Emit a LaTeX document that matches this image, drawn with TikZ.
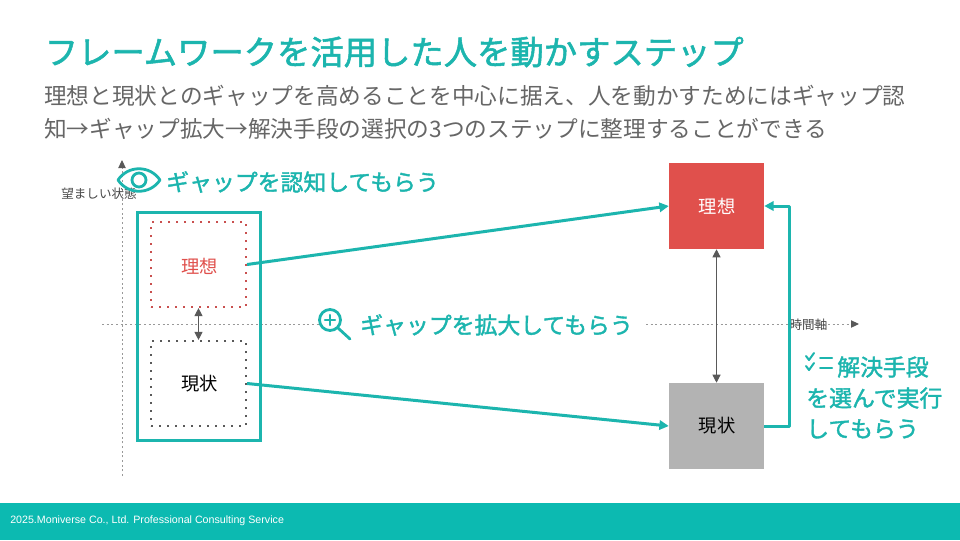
\documentclass[tikz,border=0pt]{standalone}
\usepackage{fontspec}
\usetikzlibrary{arrows.meta,calc}
\setmainfont{Noto Sans CJK JP}
\newfontfamily\semibold[FakeBold=1.6]{Noto Sans CJK JP}
\newfontfamily\latinfoot{Liberation Sans}
\definecolor{teal1}{HTML}{1CB5AE}
\definecolor{foot}{HTML}{0CBAB1}
\definecolor{redbox}{HTML}{E0504C}
\definecolor{redtxt}{HTML}{C9504F}
\definecolor{graybox}{HTML}{B3B3B3}
\definecolor{txtgray}{HTML}{666666}
\definecolor{linegray}{HTML}{595959}
\newcommand{\fs}[1]{\fontsize{#1}{#1}\selectfont}
\tikzset{
  x=0.75pt,y=-0.75pt,
  title/.style={anchor=west,inner sep=0,text=teal1,font=\semibold\fs{25}},
  subt/.style={anchor=north west,inner sep=0,text=txtgray,align=left,font=\fontsize{17}{24.75}\selectfont},
  lab/.style={anchor=west,inner sep=0,text=teal1,font=\semibold\fs{17.15}},
  axlab/.style={anchor=center,inner sep=0,text=txtgray!70!black,font=\fs{9.4}},
  boxtxt/.style={font=\fs{13.7},inner sep=0},
  dotbox/.style={draw,line width=1.6pt,dash pattern=on 1.6pt off 4.4pt,minimum width=71.25pt,minimum height=63.75pt,inner sep=0},
  solidbox/.style={minimum width=71.25pt,minimum height=64.5pt,inner sep=0},
  axisline/.style={draw=gray!80,line width=0.75pt,dash pattern=on 1.5pt off 2pt},
  axtip/.style={-{Triangle[length=6pt,width=5.5pt,fill=linegray,color=linegray]}},
  tealarrow/.style={draw=teal1,line width=2.25pt,-{Triangle[length=7pt,width=7pt,fill=teal1,color=teal1]}},
  dbl/.style={draw=linegray,line width=0.75pt,{Triangle[length=6pt,width=6pt,fill=linegray]}-{Triangle[length=6pt,width=6pt,fill=linegray]}},
  icon/.style={draw=teal1,line width=2.1pt,line cap=round,line join=round},
}
\begin{document}
\begin{tikzpicture}
\useasboundingbox (0,0) rectangle (960,540);
\fill[white] (0,0) rectangle (960,540);
% footer
\fill[foot] (0,503) rectangle (960,540);
\node[anchor=west,inner sep=0,text=white,font=\latinfoot\fs{8}] (foottxt) at (10,521) {2025.Moniverse Co., Ltd. Professional Consulting Service};
% title
\node[title] (ttl) at (44.5,52) {フレームワークを活用した人を動かすステップ};
\node[subt] (sub) at (44,85) {理想と現状とのギャップを高めることを中心に据え、人を動かすためにはギャップ認\\知→ギャップ拡大→解決手段の選択の3つのステップに整理することができる};
% axes
\coordinate (vs) at (122,476);
\coordinate (ve) at (122,160);
\coordinate (hs) at (102,324);
\coordinate (hm) at (320,324);
\coordinate (hn) at (646,324);
\coordinate (he) at (859,324);
\path[axisline,axtip] (vs) -- (ve);
\path[axisline] (hs) -- (hm);
\path[axisline,axtip] (hn) -- (he);
\node[axlab] (ylab) at (99,194) {望ましい状態};
\node[axlab] (xlab) at (808.5,325) {時間軸};
% left group
\node[draw=teal1,line width=2.25pt,minimum width=92.5pt,minimum height=171.5pt,inner sep=0] (group) at (199,326.5) {};
\node[dotbox,draw=redtxt] (ideal) at (198.5,264.5) {};
\node[boxtxt,text=redbox] (idealt) at (199.5,266) {理想};
\node[dotbox,draw=linegray] (now) at (198.5,383.5) {};
\node[boxtxt,text=black] (nowt) at (199.5,384) {現状};
\draw[dbl] (ideal.south) -- (now.north);
% right boxes
\node[solidbox,fill=redbox,text=white,font=\fs{13.7}] (idealr) at (716.5,206) {\raisebox{-0.6pt}{\hspace{1pt}理想}};
\node[solidbox,fill=graybox,text=black,font=\fs{13.7}] (nowr) at (716.5,426) {\raisebox{-0.6pt}{\hspace{1pt}現状}};
\draw[dbl] (idealr.south) -- (nowr.north);
% teal arrows
\path[tealarrow] (ideal.east) -- (idealr.west);
\path[tealarrow] (now.east) -- (nowr.west);
\coordinate (bendb) at (789,426);
\coordinate (bendt) at (789,206);
\path[tealarrow,line join=round] (nowr.east) -- (bendb) -- (bendt) -- (idealr.east);
% labels
\node[lab] (l1) at (166,182) {ギャップを認知してもらう};
\node[lab] (l2) at (360,325) {ギャップを拡大してもらう};
\node[lab] (l3a) at (837,367) {解決手段};
\node[lab] (l3b) at (806,398) {を選んで実行};
\node[lab] (l3c) at (806,429) {してもらう};
% eye icon
\draw[icon] (118,180) .. controls (128,165) and (150,165) .. (160,180) .. controls (150,195) and (128,195) .. (118,180) -- cycle;
\draw[icon] (139,180) circle[radius=7];
% magnifier
\draw[icon] (330,320) circle[radius=10.5];
\draw[icon] (338,328) -- (350,339);
\draw[icon,line width=1.6pt] (325,320) -- (335,320) (330,315) -- (330,325);
% checklist
\draw[icon,line width=1.5pt] (806,356) -- (809,360) -- (814,353) (806,366) -- (809,370) -- (814,363);
\draw[icon,line width=1.5pt] (820,358) -- (832,358) (820,368) -- (832,368);
\end{tikzpicture}
\end{document}
